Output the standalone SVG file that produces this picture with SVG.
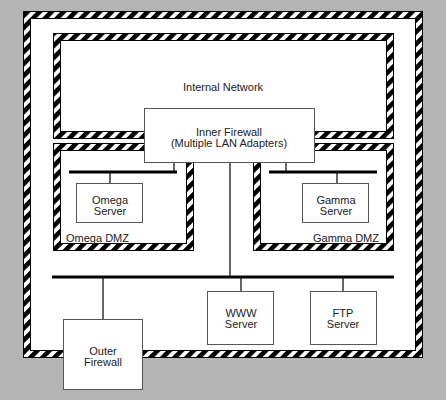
<svg xmlns="http://www.w3.org/2000/svg" width="446" height="400" viewBox="0 0 446 400">
<defs>
<pattern id="hatch" patternUnits="userSpaceOnUse" width="8.5" height="8.5" patternTransform="rotate(45)">
<rect x="0" y="0" width="8.5" height="8.5" fill="#fff"/>
<rect x="0" y="0" width="4.6" height="8.5" fill="#000"/>
</pattern>
<style>
.hz{fill:url(#hatch);stroke:#000;stroke-width:1}
.in{fill:#fff;stroke:#000;stroke-width:1}
.box{fill:#fff;stroke:#555;stroke-width:1}
.bus{stroke:#000;stroke-width:3;fill:none}
.ln{stroke:#000;stroke-width:1.2;fill:none}
text{font-family:"Liberation Sans",Arial,sans-serif;font-size:11px;fill:#222}
.c{text-anchor:middle}
</style>
</defs>
<rect x="0" y="0" width="446" height="400" fill="#b4b4b4"/>
<g id="perimeter">
<rect class="hz" x="23.5" y="11.5" width="399" height="346"/>
<rect class="in" x="30.5" y="18.5" width="385" height="332"/>
</g>
<g id="internal-network">
<rect class="hz" x="53.5" y="33.5" width="340" height="105"/>
<rect class="in" x="60.5" y="40.5" width="326" height="91"/>
<text class="c" x="223" y="91">Internal Network</text>
</g>
<g id="omega-dmz">
<rect class="hz" x="53.5" y="143.5" width="140" height="107"/>
<rect class="in" x="60.5" y="150.5" width="126" height="93"/>
<text x="66" y="242">Omega DMZ</text>
</g>
<g id="gamma-dmz">
<rect class="hz" x="253.5" y="143.5" width="140" height="107"/>
<rect class="in" x="260.5" y="150.5" width="126" height="93"/>
<text x="379" y="242" text-anchor="end">Gamma DMZ</text>
</g>
<g id="connectors">
<line class="bus" x1="69" y1="172" x2="177" y2="172"/>
<line class="bus" x1="269" y1="172" x2="377" y2="172"/>
<line class="bus" x1="52" y1="277" x2="394" y2="277"/>
<line class="ln" x1="174" y1="162" x2="174" y2="172"/>
<line class="ln" x1="110" y1="172" x2="110" y2="183"/>
<line class="ln" x1="286" y1="162" x2="286" y2="172"/>
<line class="ln" x1="337" y1="172" x2="337" y2="183"/>
<line class="ln" x1="230" y1="162" x2="230" y2="277"/>
<line class="ln" x1="103" y1="277" x2="103" y2="319"/>
<line class="ln" x1="241" y1="277" x2="241" y2="291"/>
<line class="ln" x1="343" y1="277" x2="343" y2="291"/>
</g>
<g id="inner-firewall">
<rect class="box" x="144.5" y="108.5" width="170" height="54"/>
<text class="c" x="229" y="136">Inner Firewall</text>
<text class="c" x="229" y="147">(Multiple LAN Adapters)</text>
</g>
<g id="omega-server">
<rect class="box" x="76.5" y="183.5" width="66" height="39"/>
<text class="c" x="110" y="204">Omega</text>
<text class="c" x="110" y="215">Server</text>
</g>
<g id="gamma-server">
<rect class="box" x="302.5" y="183.5" width="66" height="39"/>
<text class="c" x="336" y="204">Gamma</text>
<text class="c" x="336" y="215">Server</text>
</g>
<g id="www-server">
<rect class="box" x="207.5" y="291.5" width="66" height="53"/>
<text class="c" x="241" y="317">WWW</text>
<text class="c" x="241" y="328">Server</text>
</g>
<g id="ftp-server">
<rect class="box" x="310.5" y="291.5" width="66" height="53"/>
<text class="c" x="343" y="317">FTP</text>
<text class="c" x="343" y="328">Server</text>
</g>
<g id="outer-firewall">
<rect class="box" x="63.5" y="319.5" width="79" height="70"/>
<text class="c" x="103" y="355">Outer</text>
<text class="c" x="103" y="366">Firewall</text>
</g>
</svg>
